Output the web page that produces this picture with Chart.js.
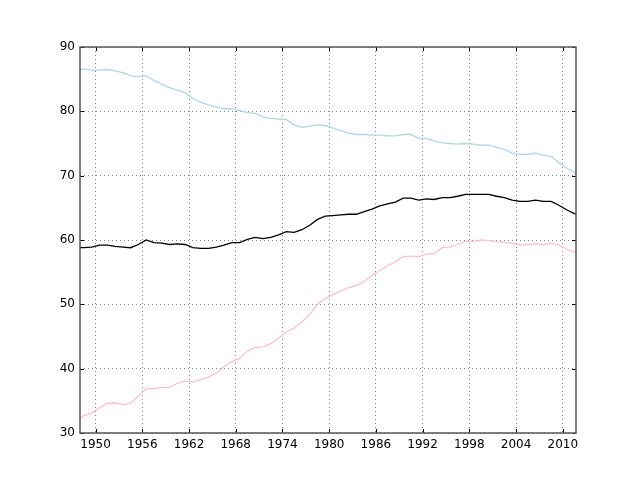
<!DOCTYPE html>
<html lang="en">
<head>
    <meta charset="UTF-8">
    <title>Labor force participation rate</title>
    <script src="https://cdn.jsdelivr.net/npm/chart.js"></script>
    <style>
        body { margin: 0; background: #fff; }
        canvas { display: block; }
    </style>
</head>
<body>
    <canvas id="chart" width="640" height="480"></canvas>

    <script>
        // x position of each point, in years (annual values at mid-year, plus the two ends)
        const years = [1948.0, 1948.5, 1949.5, 1950.5, 1951.5, 1952.5, 1953.5, 1954.5, 1955.5, 1956.5, 1957.5,
            1958.5, 1959.5, 1960.5, 1961.5, 1962.5, 1963.5, 1964.5, 1965.5, 1966.5, 1967.5,
            1968.5, 1969.5, 1970.5, 1971.5, 1972.5, 1973.5, 1974.5, 1975.5, 1976.5, 1977.5,
            1978.5, 1979.5, 1980.5, 1981.5, 1982.5, 1983.5, 1984.5, 1985.5, 1986.5, 1987.5,
            1988.5, 1989.5, 1990.5, 1991.5, 1992.5, 1993.5, 1994.5, 1995.5, 1996.5, 1997.5,
            1998.5, 1999.5, 2000.5, 2001.5, 2002.5, 2003.5, 2004.5, 2005.5, 2006.5, 2007.5,
            2008.5, 2009.5, 2010.5, 2011.5, 2011.7];

        const men = [86.5, 86.6, 86.4, 86.4, 86.5, 86.3, 86.0, 85.5, 85.4, 85.5, 84.8,
            84.2, 83.7, 83.3, 82.9, 82.0, 81.4, 81.0, 80.7, 80.4, 80.4,
            80.1, 79.8, 79.7, 79.1, 78.9, 78.8, 78.7, 77.9, 77.5, 77.7,
            77.9, 77.8, 77.4, 77.0, 76.6, 76.4, 76.4, 76.3, 76.3, 76.2,
            76.2, 76.4, 76.4, 75.8, 75.8, 75.4, 75.1, 75.0, 74.9, 75.0,
            74.9, 74.7, 74.8, 74.4, 74.1, 73.5, 73.3, 73.3, 73.5, 73.2,
            73.0, 72.0, 71.2, 70.5, 70.3];

        const total = [58.8, 58.8, 58.9, 59.2, 59.2, 59.0, 58.9, 58.8, 59.3, 60.0, 59.6,
            59.5, 59.3, 59.4, 59.3, 58.8, 58.7, 58.7, 58.9, 59.2, 59.6,
            59.6, 60.1, 60.4, 60.2, 60.4, 60.8, 61.3, 61.2, 61.6, 62.3,
            63.2, 63.7, 63.8, 63.9, 64.0, 64.0, 64.4, 64.8, 65.3, 65.6,
            65.9, 66.5, 66.5, 66.2, 66.4, 66.3, 66.6, 66.6, 66.8, 67.1,
            67.1, 67.1, 67.1, 66.8, 66.6, 66.2, 66.0, 66.0, 66.2, 66.0,
            66.0, 65.4, 64.7, 64.1, 64.0];

        const women = [32.3, 32.7, 33.1, 33.9, 34.6, 34.7, 34.4, 34.6, 35.7, 36.9, 36.9,
            37.1, 37.1, 37.7, 38.1, 37.9, 38.3, 38.7, 39.3, 40.3, 41.1,
            41.6, 42.7, 43.3, 43.4, 43.9, 44.7, 45.7, 46.3, 47.3, 48.4,
            50.0, 50.9, 51.5, 52.1, 52.6, 52.9, 53.6, 54.5, 55.3, 56.0,
            56.6, 57.4, 57.5, 57.4, 57.8, 57.9, 58.8, 58.9, 59.3, 59.8,
            59.8, 60.0, 59.9, 59.8, 59.6, 59.5, 59.2, 59.3, 59.4, 59.3,
            59.5, 59.2, 58.6, 58.1, 58.2];

        const xTicks = [1950, 1956, 1962, 1968, 1974, 1980, 1986, 1992, 1998, 2004, 2010];
        const yTicks = [30, 40, 50, 60, 70, 80, 90];

        function points(values) {
            return values.map((v, i) => ({ x: years[i], y: v }));
        }

        // frame round the plot and inward tick marks, like matplotlib
        const framePlugin = {
            id: 'frame',
            afterDraw(chart) {
                const ctx = chart.ctx;
                const a = chart.chartArea;
                const xs = chart.scales.x;
                const ys = chart.scales.y;
                ctx.save();
                ctx.strokeStyle = '#000';
                ctx.lineWidth = 1;
                ctx.beginPath();
                xTicks.forEach(t => {
                    const px = Math.round(xs.getPixelForValue(t)) + 0.5;
                    ctx.moveTo(px, a.bottom); ctx.lineTo(px, a.bottom - 4);
                    ctx.moveTo(px, a.top); ctx.lineTo(px, a.top + 4);
                });
                yTicks.forEach(t => {
                    const py = Math.round(ys.getPixelForValue(t)) + 0.5;
                    ctx.moveTo(a.left, py); ctx.lineTo(a.left + 4, py);
                    ctx.moveTo(a.right, py); ctx.lineTo(a.right - 4, py);
                });
                ctx.stroke();
                ctx.strokeStyle = '#555';
                ctx.lineWidth = 1.5;
                ctx.strokeRect(a.left, a.top, a.right - a.left, a.bottom - a.top);
                ctx.restore();
            }
        };

        new Chart(document.getElementById('chart'), {
            type: 'line',
            data: {
                datasets: [
                    { label: 'Men', data: points(men), borderColor: '#add8e6', borderWidth: 1.3 },
                    { label: 'Total', data: points(total), borderColor: '#000000', borderWidth: 1.3 },
                    { label: 'Women', data: points(women), borderColor: '#ffc0cb', borderWidth: 1.3 }
                ]
            },
            options: {
                responsive: false,
                animation: false,
                elements: { point: { radius: 0 }, line: { tension: 0 } },
                layout: { padding: { left: 0, right: 64, top: 47, bottom: 17 } },
                plugins: { legend: { display: false }, tooltip: { enabled: false } },
                scales: {
                    x: {
                        type: 'linear',
                        min: 1948,
                        max: 2011.7,
                        afterBuildTicks: scale => { scale.ticks = xTicks.map(v => ({ value: v })); },
                        afterFit: scale => { scale.height = 30; },
                        grid: { color: '#888', drawTicks: false },
                        border: { display: false, dash: [1, 3] },
                        ticks: {
                            color: '#000',
                            font: { family: 'DejaVu Sans', size: 12 },
                            padding: 5,
                            maxRotation: 0,
                            callback: v => String(v)
                        }
                    },
                    y: {
                        min: 30,
                        max: 90,
                        afterBuildTicks: scale => { scale.ticks = yTicks.map(v => ({ value: v })); },
                        afterFit: scale => { scale.width = 80; },
                        grid: { color: '#888', drawTicks: false },
                        border: { display: false, dash: [1, 3] },
                        ticks: {
                            color: '#000',
                            font: { family: 'DejaVu Sans', size: 12 },
                            padding: 5
                        }
                    }
                }
            },
            plugins: [framePlugin]
        });
    </script>
</body>
</html>
